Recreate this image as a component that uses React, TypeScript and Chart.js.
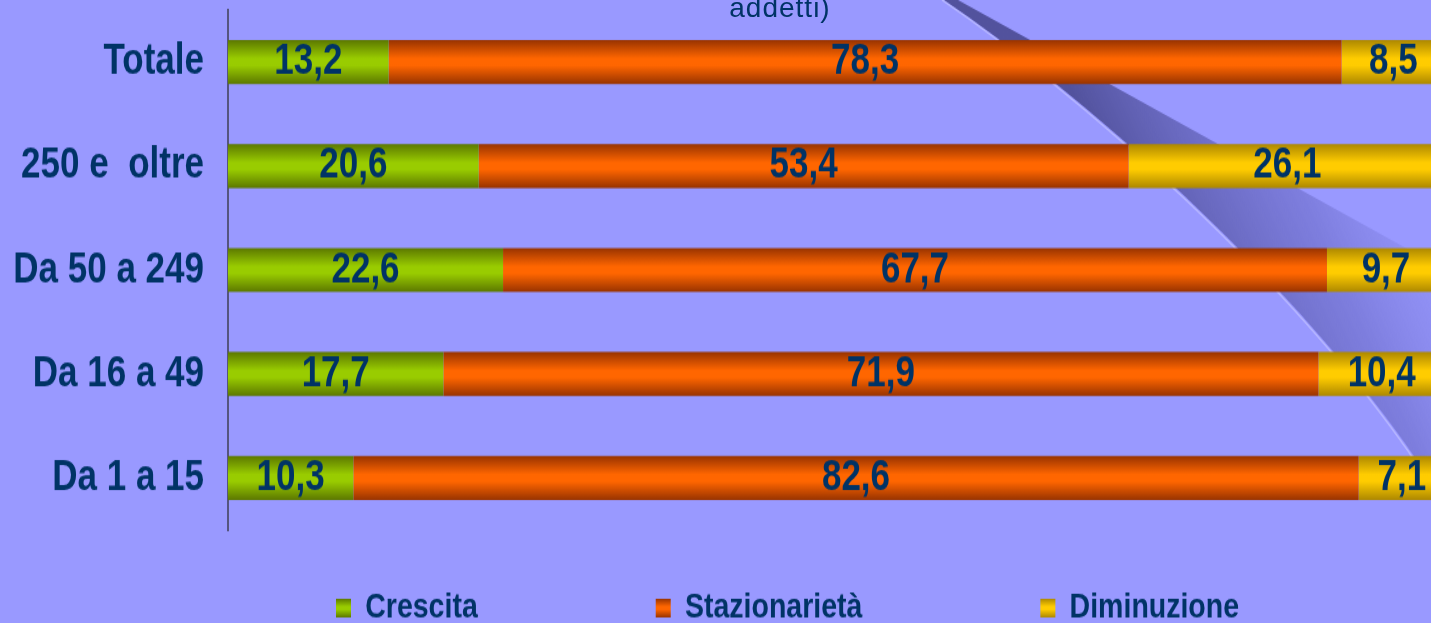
import React, { useEffect, useRef } from 'react';
import { Chart, registerables } from 'chart.js';

Chart.register(...registerables);

// ---- data ----
const categories = ['Totale', '250 e  oltre', 'Da 50 a 249', 'Da 16 a 49', 'Da 1 a 15'];
const seriesNames = ['Crescita', 'Stazionarietà', 'Diminuzione'];
const crescita = [13.2, 20.6, 22.6, 17.7, 10.3];
const stazionarieta = [78.3, 53.4, 67.7, 71.9, 82.6];
const diminuzione = [8.5, 26.1, 9.7, 10.4, 7.1];
const titleText = 'addetti)';

// ---- styling ----
const FONT = "'Liberation Sans', Arial, sans-serif";
const TEXT_COLOR = '#003366';
const BG = '#9999ff';
const palette = [
  { edge: '#5c7800', mid: '#99cc00' },
  { edge: '#983300', mid: '#ff6600' },
  { edge: '#ad8800', mid: '#ffcc00' },
];
const S = 1.25; // vertical stretch of the original picture
const CANVAS_W = 1445;
const CANVAS_H = 513;
const BAR_PCT = 0.423;
const LEGEND_PAD = 178;
const LEGEND_FONT = 28.5;
const LEGEND_MID = 486.4;
const LEGEND_LEFT = 336;
const LEGEND_BOX = 15;

function vGrad(ctx: CanvasRenderingContext2D, top: number, h: number, p: { edge: string; mid: string }) {
  if (!isFinite(top) || !isFinite(h) || h <= 0) return p.mid;
  const g = ctx.createLinearGradient(0, top, 0, top + h);
  g.addColorStop(0, p.edge);
  g.addColorStop(0.42, p.mid);
  g.addColorStop(0.58, p.mid);
  g.addColorStop(1, p.edge);
  return g;
}

function barFill(i: number) {
  return (c: any) => {
    const p = palette[i];
    if (c.type !== 'data') return p.mid;
    const y = c.chart.scales && c.chart.scales.y;
    if (!y || !isFinite(y.top) || !isFinite(y.bottom)) return p.mid;
    const band = (y.bottom - y.top) / categories.length;
    const h = band * BAR_PCT;
    const yc = y.getPixelForValue(c.dataIndex);
    return vGrad(c.chart.ctx, yc - h / 2, h, p);
  };
}

const swooshPlugin = {
  id: 'swoosh',
  beforeDraw(chart: any) {
    const ctx: CanvasRenderingContext2D = chart.ctx;
    ctx.save();
    ctx.scale(1, 1 / S);
    ctx.beginPath();
    ctx.moveTo(944, 0);
    ctx.bezierCurveTo(1070, 85, 1300, 280, 1431, 481);
    ctx.lineTo(1500, 600);
    ctx.lineTo(1500, 300);
    ctx.lineTo(958, 0);
    ctx.closePath();
    const g = ctx.createLinearGradient(1120, 200, 1430, 60);
    g.addColorStop(0, 'rgba(70,70,140,0.85)');
    g.addColorStop(0.5, 'rgba(100,100,190,0.5)');
    g.addColorStop(1, 'rgba(153,153,255,0)');
    ctx.fillStyle = g;
    ctx.fill();
    ctx.beginPath();
    ctx.moveTo(942, 0);
    ctx.bezierCurveTo(1068, 86, 1298, 281, 1429, 482);
    ctx.lineTo(1470, 560);
    ctx.strokeStyle = 'rgba(190,190,255,0.8)';
    ctx.lineWidth = 1.5;
    ctx.stroke();
    ctx.restore();
  },
};

const legendPlacePlugin = {
  id: 'legendPlace',
  afterLayout(chart: any) {
    const lg = chart.legend;
    if (!lg) return;
    lg.top = LEGEND_MID - LEGEND_FONT / 2 - LEGEND_PAD;
    lg.left = LEGEND_LEFT - LEGEND_PAD;
  },
};

const valueLabelPlugin = {
  id: 'valueLabels',
  afterDatasetsDraw(chart: any) {
    const ctx: CanvasRenderingContext2D = chart.ctx;
    ctx.save();
    ctx.font = `bold 35px ${FONT}`;
    ctx.fillStyle = TEXT_COLOR;
    ctx.textAlign = 'center';
    ctx.textBaseline = 'middle';
    chart.data.datasets.forEach((ds: any, i: number) => {
      const meta = chart.getDatasetMeta(i);
      meta.data.forEach((el: any, j: number) => {
        const { x, y, base } = el.getProps(['x', 'y', 'base'], true);
        const v = ds.data[j] as number;
        ctx.fillText(v.toFixed(1).replace('.', ','), (x + base) / 2, y);
      });
    });
    ctx.restore();
  },
};

export default function App() {
  const ref = useRef<HTMLCanvasElement | null>(null);

  useEffect(() => {
    const canvas = ref.current;
    if (!canvas) return;
    const values = [crescita, stazionarieta, diminuzione];
    const chart = new Chart(canvas, {
      type: 'bar',
      data: {
        labels: categories,
        datasets: seriesNames.map((name, i) => ({
          label: name,
          data: values[i],
          backgroundColor: barFill(i),
          borderWidth: 0,
          barPercentage: BAR_PCT,
          categoryPercentage: 1,
        })),
      },
      options: {
        indexAxis: 'y',
        responsive: false,
        animation: false,
        devicePixelRatio: 1,
        layout: { padding: { top: 8, left: 0, right: 0, bottom: 0 } },
        scales: {
          x: { stacked: true, min: 0, max: 100, display: false },
          y: {
            stacked: true,
            grid: { display: false, drawTicks: false },
            border: { display: true, color: '#55557f', width: 2 },
            ticks: {
              color: TEXT_COLOR,
              padding: 24,
              font: { family: FONT, weight: 'bold', size: 35 },
            },
            afterFit: (scale: any) => {
              scale.width = 228;
              scale.paddingTop = 0;
              scale.paddingBottom = 0;
            },
          },
        },
        plugins: {
          title: { display: false },
          tooltip: { enabled: false },
          legend: {
            display: true,
            position: 'bottom',
            align: 'start',
            maxHeight: 89,
            labels: {
              padding: LEGEND_PAD,
              boxWidth: LEGEND_BOX,
              boxHeight: LEGEND_BOX,
              color: TEXT_COLOR,
              font: { family: FONT, weight: 'bold', size: LEGEND_FONT },
              generateLabels: (ch: any) => {
                const items = (Chart as any).defaults.plugins.legend.labels.generateLabels(ch);
                return items.map((it: any, i: number) => ({
                  ...it,
                  fillStyle: vGrad(ch.ctx, LEGEND_MID - LEGEND_BOX / 2, LEGEND_BOX, palette[i]),
                  strokeStyle: 'rgba(0,0,0,0)',
                  lineWidth: 0,
                }));
              },
            },
          },
        },
      } as any,
      plugins: [swooshPlugin, legendPlacePlugin, valueLabelPlugin],
    });
    return () => chart.destroy();
  }, []);

  return (
    <div
      style={{
        position: 'fixed',
        left: 0,
        top: 0,
        width: 1431,
        height: 623,
        overflow: 'hidden',
        background: BG,
      }}
    >
      <div
        style={{
          position: 'absolute',
          left: 0,
          top: 0,
          transform: `scaleY(${S})`,
          transformOrigin: '0 0',
        }}
      >
        <canvas ref={ref} width={CANVAS_W} height={CANVAS_H} style={{ display: 'block' }} />
      </div>
      <div
        style={{
          position: 'absolute',
          left: 630,
          top: -6,
          width: 300,
          textAlign: 'center',
          fontFamily: FONT,
          fontSize: 28,
          lineHeight: '28px',
          letterSpacing: '1px',
          color: TEXT_COLOR,
          whiteSpace: 'nowrap',
        }}
      >
        {titleText}
      </div>
    </div>
  );
}
